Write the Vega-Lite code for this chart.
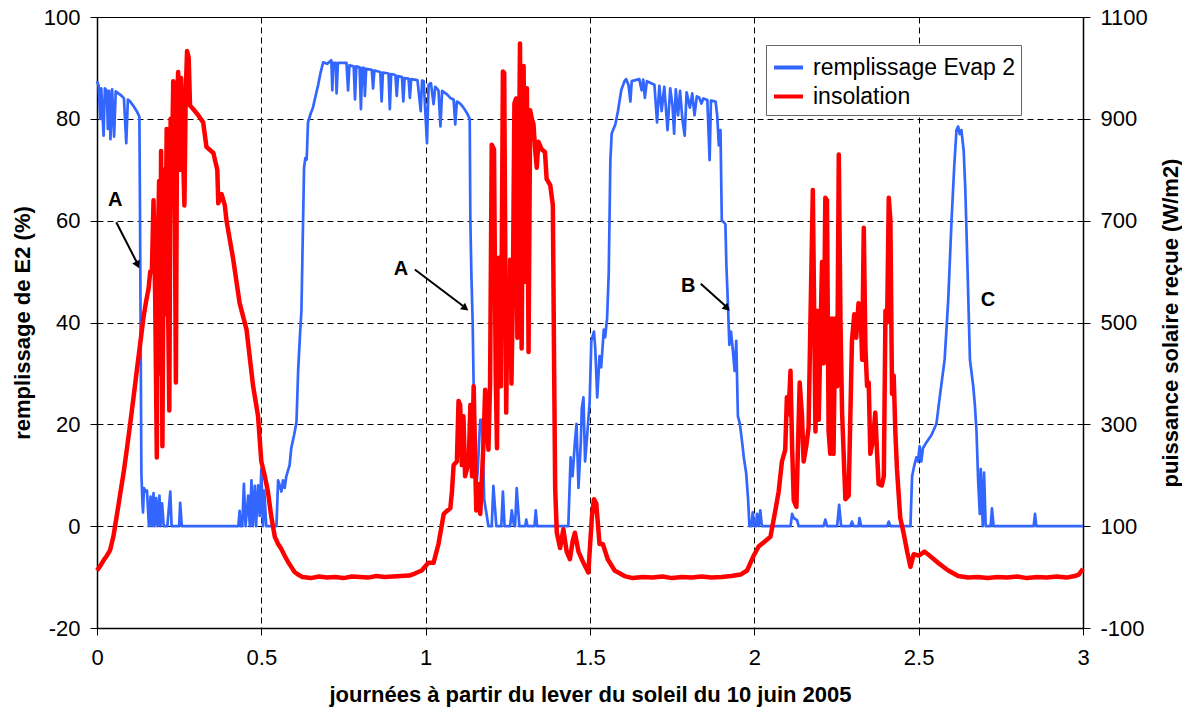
{
 "$schema": "https://vega.github.io/schema/vega-lite/v6.json",
 "width": 986,
 "height": 611,
 "autosize": {"type": "none"},
 "padding": {"left": 97, "top": 17, "right": 99, "bottom": 85},
 "background": "white",
 "config": {
  "font": "Liberation Sans",
  "view": {"stroke": "black", "strokeWidth": 1},
  "axis": {"labelFont": "Liberation Sans", "labelFontSize": 22, "labelColor": "black", "titleFont": "Liberation Sans", "titleFontSize": 22, "titleFontWeight": "bold", "titleColor": "black", "domainColor": "black", "domainWidth": 1.5, "tickColor": "black", "tickSize": 7, "tickWidth": 1, "gridColor": "black", "gridDash": [6, 4], "gridWidth": 1, "gridOpacity": 1, "labelPadding": 10, "labelFlush": false, "labelOverlap": false, "labelExpr": "'' + datum.value"}
 },
 "datasets": {
  "evap": [
   {"j":0,"r":87.4},{"j":0.005,"r":86.5},{"j":0.01,"r":80},{"j":0.013,"r":86},{"j":0.02,"r":76.7},{"j":0.024,"r":86},{"j":0.03,"r":85.5},{"j":0.033,"r":78},{"j":0.037,"r":85.5},{"j":0.041,"r":76},{"j":0.046,"r":85.8},{"j":0.052,"r":76.5},{"j":0.057,"r":85.4},{"j":0.065,"r":85},{"j":0.075,"r":84.5},{"j":0.082,"r":84},{"j":0.089,"r":75.2},{"j":0.094,"r":83.8},{"j":0.101,"r":83.4},{"j":0.11,"r":82.6},{"j":0.121,"r":81.5},{"j":0.129,"r":80.4},{"j":0.131,"r":60},{"j":0.133,"r":35},{"j":0.135,"r":10.5},{"j":0.138,"r":5},{"j":0.14,"r":2.7},{"j":0.143,"r":7.5},{"j":0.148,"r":6.8},{"j":0.152,"r":7},{"j":0.158,"r":0},{"j":0.163,"r":5.8},{"j":0.167,"r":0},{"j":0.172,"r":6.5},{"j":0.175,"r":0},{"j":0.18,"r":5.5},{"j":0.184,"r":0},{"j":0.19,"r":6},{"j":0.193,"r":0},{"j":0.198,"r":4.5},{"j":0.203,"r":0},{"j":0.214,"r":0},{"j":0.223,"r":6.8},{"j":0.227,"r":0},{"j":0.25,"r":0},{"j":0.253,"r":4.6},{"j":0.258,"r":0},{"j":0.43,"r":0},{"j":0.434,"r":3},{"j":0.437,"r":0},{"j":0.442,"r":0},{"j":0.447,"r":8.3},{"j":0.452,"r":0},{"j":0.46,"r":6},{"j":0.465,"r":0},{"j":0.47,"r":9},{"j":0.474,"r":0},{"j":0.48,"r":7.9},{"j":0.484,"r":0},{"j":0.49,"r":8},{"j":0.495,"r":2},{"j":0.5,"r":11.2},{"j":0.505,"r":0},{"j":0.509,"r":7},{"j":0.515,"r":0},{"j":0.546,"r":0},{"j":0.551,"r":9},{"j":0.556,"r":8},{"j":0.561,"r":6.8},{"j":0.566,"r":9},{"j":0.571,"r":7.5},{"j":0.576,"r":9.8},{"j":0.586,"r":12},{"j":0.591,"r":15.3},{"j":0.6,"r":18},{"j":0.607,"r":20.5},{"j":0.612,"r":30.5},{"j":0.618,"r":38},{"j":0.622,"r":42.3},{"j":0.627,"r":60},{"j":0.63,"r":70.4},{"j":0.634,"r":72.3},{"j":0.638,"r":72},{"j":0.642,"r":79.3},{"j":0.65,"r":81},{"j":0.657,"r":82.2},{"j":0.665,"r":84.5},{"j":0.673,"r":86.7},{"j":0.68,"r":89},{"j":0.688,"r":91.1},{"j":0.7,"r":90.8},{"j":0.713,"r":91.5},{"j":0.716,"r":85.6},{"j":0.719,"r":91},{"j":0.726,"r":91},{"j":0.729,"r":85},{"j":0.733,"r":91},{"j":0.759,"r":91},{"j":0.764,"r":85.6},{"j":0.768,"r":90.5},{"j":0.781,"r":90.3},{"j":0.785,"r":83.8},{"j":0.789,"r":90.3},{"j":0.799,"r":90.1},{"j":0.803,"r":81.9},{"j":0.807,"r":90},{"j":0.812,"r":90},{"j":0.815,"r":84.5},{"j":0.819,"r":89.8},{"j":0.836,"r":89.6},{"j":0.84,"r":86},{"j":0.844,"r":89.5},{"j":0.862,"r":89.2},{"j":0.866,"r":83.4},{"j":0.87,"r":89.1},{"j":0.887,"r":88.9},{"j":0.891,"r":81.9},{"j":0.895,"r":88.8},{"j":0.908,"r":88.6},{"j":0.912,"r":84.5},{"j":0.916,"r":88.4},{"j":0.928,"r":88.2},{"j":0.932,"r":83.4},{"j":0.936,"r":88},{"j":0.948,"r":87.9},{"j":0.952,"r":84.1},{"j":0.956,"r":87.8},{"j":0.975,"r":87.6},{"j":0.985,"r":81.5},{"j":0.989,"r":87.5},{"j":0.994,"r":87.4},{"j":1.004,"r":75.2},{"j":1.009,"r":86.7},{"j":1.016,"r":87},{"j":1.024,"r":82.9},{"j":1.029,"r":86.3},{"j":1.039,"r":85.6},{"j":1.045,"r":78.5},{"j":1.05,"r":85.5},{"j":1.065,"r":84.8},{"j":1.075,"r":84.1},{"j":1.085,"r":83.8},{"j":1.09,"r":78.9},{"j":1.095,"r":83.4},{"j":1.105,"r":83},{"j":1.115,"r":82.2},{"j":1.126,"r":81.1},{"j":1.134,"r":80},{"j":1.136,"r":60},{"j":1.139,"r":49.7},{"j":1.143,"r":40},{"j":1.146,"r":27.5},{"j":1.151,"r":6.1},{"j":1.158,"r":10.5},{"j":1.166,"r":20.9},{"j":1.172,"r":20.9},{"j":1.178,"r":5.3},{"j":1.191,"r":0},{"j":1.201,"r":0},{"j":1.206,"r":7.9},{"j":1.215,"r":0},{"j":1.23,"r":0},{"j":1.235,"r":6.8},{"j":1.24,"r":0},{"j":1.257,"r":0},{"j":1.262,"r":3.1},{"j":1.269,"r":0},{"j":1.272,"r":0},{"j":1.277,"r":7.5},{"j":1.285,"r":0},{"j":1.303,"r":0},{"j":1.306,"r":1.3},{"j":1.31,"r":0},{"j":1.331,"r":0},{"j":1.335,"r":3.1},{"j":1.339,"r":0},{"j":1.434,"r":0},{"j":1.441,"r":13.5},{"j":1.447,"r":9.8},{"j":1.454,"r":16.4},{"j":1.459,"r":20.1},{"j":1.465,"r":7.5},{"j":1.472,"r":16.4},{"j":1.475,"r":23.1},{"j":1.48,"r":25.3},{"j":1.485,"r":12.7},{"j":1.492,"r":18.3},{"j":1.499,"r":24.5},{"j":1.504,"r":36.4},{"j":1.512,"r":38.2},{"j":1.516,"r":34.9},{"j":1.522,"r":25.3},{"j":1.529,"r":33.4},{"j":1.534,"r":31.2},{"j":1.542,"r":38.6},{"j":1.546,"r":37.1},{"j":1.552,"r":40.8},{"j":1.557,"r":49.7},{"j":1.562,"r":71.9},{"j":1.566,"r":77.1},{"j":1.577,"r":78.9},{"j":1.585,"r":81.5},{"j":1.595,"r":85.6},{"j":1.605,"r":87.4},{"j":1.61,"r":87.8},{"j":1.617,"r":86.7},{"j":1.623,"r":83.4},{"j":1.627,"r":87.4},{"j":1.65,"r":87.8},{"j":1.657,"r":85.6},{"j":1.662,"r":87.7},{"j":1.667,"r":84.1},{"j":1.673,"r":87.4},{"j":1.696,"r":86.7},{"j":1.704,"r":79.3},{"j":1.711,"r":86.5},{"j":1.718,"r":81.5},{"j":1.726,"r":86.3},{"j":1.736,"r":77.8},{"j":1.744,"r":86},{"j":1.751,"r":82.6},{"j":1.756,"r":77.1},{"j":1.761,"r":85.8},{"j":1.768,"r":80.7},{"j":1.774,"r":85.5},{"j":1.781,"r":80},{"j":1.788,"r":76.7},{"j":1.794,"r":85.2},{"j":1.804,"r":82.2},{"j":1.811,"r":85},{"j":1.818,"r":80.7},{"j":1.825,"r":84.4},{"j":1.832,"r":84.2},{"j":1.839,"r":83},{"j":1.845,"r":84},{"j":1.857,"r":83.7},{"j":1.864,"r":71.9},{"j":1.868,"r":83.6},{"j":1.882,"r":83.4},{"j":1.887,"r":80.7},{"j":1.892,"r":74.8},{"j":1.897,"r":77.8},{"j":1.901,"r":60},{"j":1.907,"r":59.7},{"j":1.912,"r":59.3},{"j":1.915,"r":51.2},{"j":1.92,"r":43},{"j":1.924,"r":35.6},{"j":1.929,"r":38.2},{"j":1.934,"r":34.9},{"j":1.94,"r":30.5},{"j":1.945,"r":36.4},{"j":1.95,"r":21.6},{"j":1.956,"r":20.1},{"j":1.963,"r":16.4},{"j":1.968,"r":13.5},{"j":1.975,"r":10.5},{"j":1.981,"r":5.3},{"j":1.985,"r":0},{"j":1.991,"r":0},{"j":1.995,"r":2.7},{"j":2,"r":0},{"j":2.005,"r":0},{"j":2.008,"r":2.4},{"j":2.013,"r":0},{"j":2.018,"r":3.1},{"j":2.023,"r":0},{"j":2.11,"r":0},{"j":2.115,"r":2.4},{"j":2.12,"r":1.6},{"j":2.13,"r":1.2},{"j":2.135,"r":0},{"j":2.211,"r":0},{"j":2.216,"r":1.3},{"j":2.221,"r":0},{"j":2.252,"r":0},{"j":2.258,"r":4.2},{"j":2.264,"r":0},{"j":2.292,"r":0},{"j":2.297,"r":0.9},{"j":2.302,"r":0},{"j":2.317,"r":0},{"j":2.32,"r":1.6},{"j":2.325,"r":0},{"j":2.404,"r":0},{"j":2.409,"r":0.9},{"j":2.414,"r":0},{"j":2.475,"r":0},{"j":2.48,"r":9.8},{"j":2.487,"r":12},{"j":2.493,"r":13.5},{"j":2.498,"r":12.7},{"j":2.503,"r":15.7},{"j":2.508,"r":12.7},{"j":2.513,"r":15.3},{"j":2.523,"r":16.4},{"j":2.539,"r":17.9},{"j":2.554,"r":20.1},{"j":2.564,"r":25.3},{"j":2.579,"r":32.7},{"j":2.59,"r":44.5},{"j":2.6,"r":60},{"j":2.608,"r":70.4},{"j":2.615,"r":77.8},{"j":2.62,"r":78.5},{"j":2.625,"r":77},{"j":2.63,"r":77.8},{"j":2.637,"r":73.7},{"j":2.642,"r":66},{"j":2.649,"r":49.7},{"j":2.656,"r":32.7},{"j":2.666,"r":27.5},{"j":2.671,"r":23.8},{"j":2.676,"r":18.6},{"j":2.681,"r":9},{"j":2.686,"r":2.4},{"j":2.689,"r":11.2},{"j":2.695,"r":0},{"j":2.699,"r":10.5},{"j":2.704,"r":0},{"j":2.719,"r":0},{"j":2.723,"r":3.5},{"j":2.728,"r":0},{"j":2.85,"r":0},{"j":2.854,"r":2.4},{"j":2.858,"r":0},{"j":3,"r":0}
  ],
  "insol": [
   {"j":0,"w":13},{"j":0.01,"w":22},{"j":0.02,"w":33},{"j":0.03,"w":42},{"j":0.04,"w":53},{"j":0.05,"w":80},{"j":0.061,"w":124},{"j":0.071,"w":165},{"j":0.081,"w":205},{"j":0.091,"w":252},{"j":0.101,"w":301},{"j":0.111,"w":352},{"j":0.121,"w":405},{"j":0.131,"w":456},{"j":0.141,"w":508},{"j":0.149,"w":540},{"j":0.157,"w":567},{"j":0.162,"w":600},{"j":0.167,"w":600},{"j":0.172,"w":740},{"j":0.177,"w":550},{"j":0.182,"w":235},{"j":0.185,"w":650},{"j":0.189,"w":778},{"j":0.192,"w":400},{"j":0.195,"w":837},{"j":0.199,"w":257},{"j":0.204,"w":800},{"j":0.207,"w":516},{"j":0.212,"w":880},{"j":0.216,"w":550},{"j":0.22,"w":327},{"j":0.224,"w":900},{"j":0.229,"w":850},{"j":0.232,"w":974},{"j":0.237,"w":700},{"j":0.24,"w":382},{"j":0.244,"w":950},{"j":0.247,"w":992},{"j":0.253,"w":800},{"j":0.256,"w":980},{"j":0.261,"w":850},{"j":0.266,"w":730},{"j":0.27,"w":950},{"j":0.274,"w":1033},{"j":0.279,"w":1020},{"j":0.283,"w":926},{"j":0.293,"w":919},{"j":0.308,"w":907},{"j":0.323,"w":893},{"j":0.333,"w":845},{"j":0.354,"w":833},{"j":0.366,"w":800},{"j":0.369,"w":734},{"j":0.379,"w":752},{"j":0.389,"w":730},{"j":0.394,"w":700},{"j":0.414,"w":626},{"j":0.434,"w":538},{"j":0.455,"w":486},{"j":0.475,"w":375},{"j":0.49,"w":316},{"j":0.5,"w":227},{"j":0.51,"w":200},{"j":0.52,"w":168},{"j":0.53,"w":120},{"j":0.541,"w":79},{"j":0.551,"w":65},{"j":0.561,"w":55},{"j":0.571,"w":42},{"j":0.581,"w":30},{"j":0.591,"w":20},{"j":0.601,"w":10},{"j":0.612,"w":5},{"j":0.625,"w":0},{"j":0.65,"w":-2},{"j":0.675,"w":1},{"j":0.7,"w":-1},{"j":0.725,"w":0},{"j":0.75,"w":-2},{"j":0.775,"w":1},{"j":0.8,"w":0},{"j":0.825,"w":-1},{"j":0.85,"w":2},{"j":0.875,"w":0},{"j":0.9,"w":1},{"j":0.925,"w":2},{"j":0.95,"w":3},{"j":0.967,"w":7},{"j":0.988,"w":13},{"j":1.008,"w":28},{"j":1.024,"w":28},{"j":1.039,"w":65},{"j":1.055,"w":124},{"j":1.065,"w":130},{"j":1.075,"w":135},{"j":1.08,"w":168},{"j":1.085,"w":220},{"j":1.095,"w":227},{"j":1.1,"w":346},{"j":1.105,"w":338},{"j":1.11,"w":220},{"j":1.115,"w":316},{"j":1.12,"w":198},{"j":1.131,"w":227},{"j":1.136,"w":338},{"j":1.141,"w":198},{"j":1.146,"w":375},{"j":1.154,"w":131},{"j":1.161,"w":183},{"j":1.166,"w":124},{"j":1.176,"w":264},{"j":1.181,"w":368},{"j":1.191,"w":250},{"j":1.196,"w":382},{"j":1.201,"w":849},{"j":1.208,"w":840},{"j":1.213,"w":400},{"j":1.217,"w":253},{"j":1.222,"w":627},{"j":1.229,"w":375},{"j":1.235,"w":993},{"j":1.239,"w":990},{"j":1.245,"w":323},{"j":1.249,"w":545},{"j":1.253,"w":450},{"j":1.257,"w":623},{"j":1.261,"w":380},{"j":1.265,"w":540},{"j":1.27,"w":930},{"j":1.275,"w":940},{"j":1.279,"w":470},{"j":1.283,"w":750},{"j":1.287,"w":1048},{"j":1.292,"w":449},{"j":1.298,"w":1004},{"j":1.303,"w":580},{"j":1.308,"w":960},{"j":1.313,"w":442},{"j":1.318,"w":917},{"j":1.323,"w":900},{"j":1.328,"w":890},{"j":1.333,"w":840},{"j":1.338,"w":804},{"j":1.343,"w":855},{"j":1.353,"w":840},{"j":1.363,"w":835},{"j":1.368,"w":782},{"j":1.379,"w":770},{"j":1.387,"w":730},{"j":1.391,"w":400},{"j":1.394,"w":175},{"j":1.399,"w":87},{"j":1.409,"w":57},{"j":1.419,"w":94},{"j":1.429,"w":50},{"j":1.439,"w":35},{"j":1.447,"w":70},{"j":1.454,"w":87},{"j":1.465,"w":50},{"j":1.48,"w":28},{"j":1.495,"w":9},{"j":1.499,"w":50},{"j":1.506,"w":120},{"j":1.512,"w":153},{"j":1.519,"w":145},{"j":1.529,"w":65},{"j":1.539,"w":65},{"j":1.554,"w":35},{"j":1.575,"w":13},{"j":1.605,"w":2},{"j":1.63,"w":-2},{"j":1.66,"w":0},{"j":1.69,"w":-1},{"j":1.72,"w":1},{"j":1.75,"w":-2},{"j":1.78,"w":0},{"j":1.81,"w":-1},{"j":1.84,"w":1},{"j":1.87,"w":-1},{"j":1.9,"w":0},{"j":1.93,"w":2},{"j":1.958,"w":5},{"j":1.978,"w":13},{"j":1.998,"w":42},{"j":2.013,"w":60},{"j":2.028,"w":68},{"j":2.049,"w":79},{"j":2.064,"w":131},{"j":2.074,"w":168},{"j":2.084,"w":227},{"j":2.094,"w":250},{"j":2.099,"w":353},{"j":2.104,"w":320},{"j":2.11,"w":405},{"j":2.115,"w":253},{"j":2.12,"w":150},{"j":2.128,"w":138},{"j":2.138,"w":382},{"j":2.145,"w":316},{"j":2.15,"w":227},{"j":2.158,"w":257},{"j":2.165,"w":294},{"j":2.17,"w":479},{"j":2.178,"w":760},{"j":2.186,"w":286},{"j":2.191,"w":523},{"j":2.196,"w":309},{"j":2.201,"w":470},{"j":2.206,"w":619},{"j":2.211,"w":420},{"j":2.216,"w":745},{"j":2.221,"w":740},{"j":2.226,"w":286},{"j":2.231,"w":242},{"j":2.236,"w":508},{"j":2.241,"w":242},{"j":2.246,"w":508},{"j":2.252,"w":375},{"j":2.257,"w":830},{"j":2.262,"w":508},{"j":2.267,"w":323},{"j":2.277,"w":153},{"j":2.287,"w":160},{"j":2.297,"w":464},{"j":2.304,"w":516},{"j":2.31,"w":470},{"j":2.317,"w":538},{"j":2.323,"w":530},{"j":2.328,"w":427},{"j":2.333,"w":686},{"j":2.338,"w":450},{"j":2.343,"w":375},{"j":2.348,"w":382},{"j":2.353,"w":242},{"j":2.361,"w":270},{"j":2.368,"w":323},{"j":2.373,"w":250},{"j":2.378,"w":183},{"j":2.388,"w":180},{"j":2.394,"w":198},{"j":2.399,"w":523},{"j":2.404,"w":500},{"j":2.409,"w":745},{"j":2.414,"w":700},{"j":2.419,"w":360},{"j":2.424,"w":396},{"j":2.429,"w":286},{"j":2.434,"w":212},{"j":2.444,"w":116},{"j":2.454,"w":87},{"j":2.465,"w":50},{"j":2.475,"w":20},{"j":2.485,"w":45},{"j":2.5,"w":42},{"j":2.518,"w":50},{"j":2.539,"w":39},{"j":2.559,"w":28},{"j":2.59,"w":13},{"j":2.62,"w":2},{"j":2.65,"w":-1},{"j":2.68,"w":0},{"j":2.71,"w":-2},{"j":2.74,"w":0},{"j":2.77,"w":-1},{"j":2.8,"w":1},{"j":2.83,"w":-2},{"j":2.86,"w":0},{"j":2.89,"w":-1},{"j":2.92,"w":1},{"j":2.95,"w":-1},{"j":2.975,"w":2},{"j":2.987,"w":5},{"j":3,"w":16}
  ],
  "lettres": [
   {"j":0.0556,"r":64.1,"t":"A"},{"j":0.925,"r":50.6,"t":"A"},{"j":1.799,"r":47.1,"t":"B"},{"j":2.711,"r":44.4,"t":"C"}
  ],
  "fleches": [
   {"j":0.0586,"r":59.7,"j2":0.126,"r2":51.2},{"j":0.967,"r":50.4,"j2":1.125,"r2":42.7},{"j":1.837,"r":47.6,"j2":1.92,"r2":42.8}
  ]
 },
 "layer": [
  {
   "layer": [
    {
     "data": {"name": "evap"},
     "mark": {"type": "line", "strokeWidth": 2.7, "strokeJoin": "round"},
     "encoding": {
      "x": {"field": "j", "type": "quantitative", "scale": {"domain": [0, 3], "nice": false},
       "axis": {"values": [0, 0.5, 1, 1.5, 2, 2.5, 3], "grid": true, "title": "journées à partir du lever du soleil du 10 juin 2005", "titleY": 66, "titleBaseline": "middle", "labelPadding": 12}},
      "y": {"field": "r", "type": "quantitative", "scale": {"domain": [-20, 100], "nice": false},
       "axis": {"values": [-20, 0, 20, 40, 60, 80, 100], "grid": true, "title": "remplissage de E2 (%)", "titleAngle": 270, "titleX": -75, "titleY": 305.5, "titleAlign": "center", "titleBaseline": "middle"}},
      "color": {"datum": "remplissage Evap 2", "type": "nominal",
       "scale": {"domain": ["remplissage Evap 2", "insolation"], "range": ["#3366ff", "#ff0000"]},
       "legend": {"title": null, "orient": "none", "legendX": 669, "legendY": 28, "direction": "vertical", "labelFont": "Liberation Sans", "labelFontSize": 23, "labelColor": "black", "symbolType": "stroke", "symbolSize": 841, "symbolStrokeWidth": 4, "strokeColor": "#666666", "fillColor": "white", "padding": 6, "rowPadding": 0, "labelOffset": 8, "labelLimit": 400}}
     }
    },
    {
     "data": {"name": "fleches"},
     "mark": {"type": "rule", "color": "black", "strokeWidth": 2},
     "encoding": {
      "x": {"field": "j", "type": "quantitative"},
      "y": {"field": "r", "type": "quantitative"},
      "x2": {"field": "j2"},
      "y2": {"field": "r2"}
     }
    },
    {
     "data": {"values": [{"j": 0.1235, "r": 51.3}]},
     "mark": {"type": "point", "shape": "triangle-down", "filled": true, "color": "black", "size": 70, "angle": 333.5, "opacity": 1},
     "encoding": {"x": {"field": "j", "type": "quantitative"}, "y": {"field": "r", "type": "quantitative"}}
    },
    {
     "data": {"values": [{"j": 1.121, "r": 42.8}]},
     "mark": {"type": "point", "shape": "triangle-down", "filled": true, "color": "black", "size": 70, "angle": 307.4, "opacity": 1},
     "encoding": {"x": {"field": "j", "type": "quantitative"}, "y": {"field": "r", "type": "quantitative"}}
    },
    {
     "data": {"values": [{"j": 1.917, "r": 42.8}]},
     "mark": {"type": "point", "shape": "triangle-down", "filled": true, "color": "black", "size": 70, "angle": 312.7, "opacity": 1},
     "encoding": {"x": {"field": "j", "type": "quantitative"}, "y": {"field": "r", "type": "quantitative"}}
    },
    {
     "data": {"name": "lettres"},
     "mark": {"type": "text", "font": "Liberation Sans", "fontSize": 20, "fontWeight": "bold", "color": "black", "align": "center", "baseline": "middle"},
     "encoding": {
      "x": {"field": "j", "type": "quantitative"},
      "y": {"field": "r", "type": "quantitative"},
      "text": {"field": "t"}
     }
    }
   ]
  },
  {
   "data": {"name": "insol"},
   "mark": {"type": "line", "strokeWidth": 4.5, "strokeJoin": "round"},
   "encoding": {
    "x": {"field": "j", "type": "quantitative"},
    "y": {"field": "w", "type": "quantitative", "scale": {"domain": [-100, 1100], "nice": false},
     "axis": {"orient": "right", "values": [-100, 100, 300, 500, 700, 900, 1100], "grid": false, "title": "puissance solaire reçue (W/m2)", "titleAngle": 270, "titleX": 87, "titleY": 305.5, "titleAlign": "center", "titleBaseline": "middle"}},
    "color": {"datum": "insolation", "type": "nominal"}
   }
  }
 ],
 "resolve": {"scale": {"y": "independent"}}
}
